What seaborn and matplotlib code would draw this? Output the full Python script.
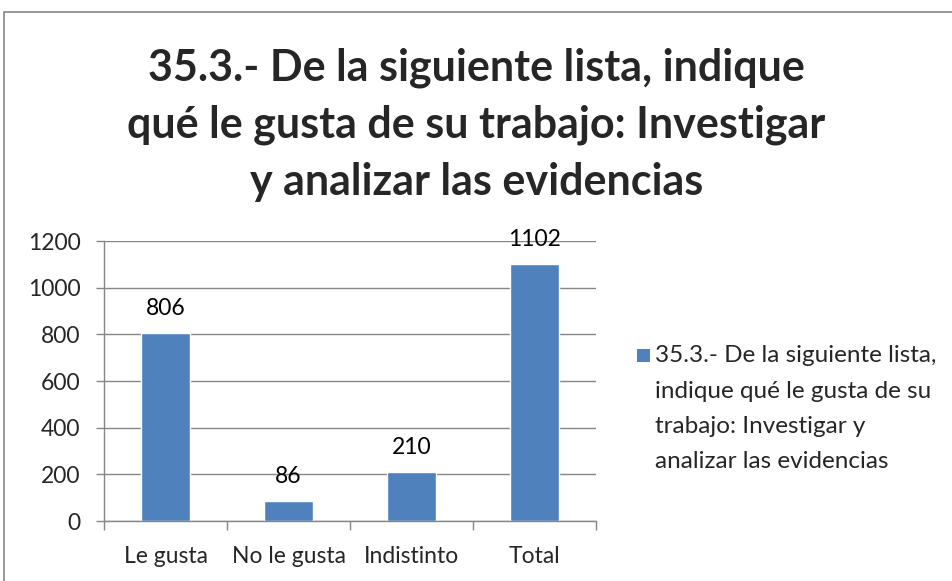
import matplotlib
matplotlib.use("Agg")
import matplotlib.pyplot as plt
from matplotlib.patches import Rectangle
import seaborn as sns

categories = ["Le gusta", "No le gusta", "Indistinto", "Total"]
values = [806, 86, 210, 1102]
title_lines = ["35.3.- De la siguiente lista, indique",
               "qué le gusta de su trabajo: Investigar",
               "y analizar las evidencias"]
legend_lines = ["35.3.- De la siguiente lista,",
                "indique qué le gusta de su",
                "trabajo: Investigar y",
                "analizar las evidencias"]
y_ticks = [0, 200, 400, 600, 800, 1000, 1200]

sns.set_theme(style="white")
plt.rcParams["font.family"] = ["Lato", "DejaVu Sans"]

BAR = "#4F81BD"
AXIS = "#868686"
FS = 16.5

W, H = 953, 581
fig = plt.figure(figsize=(W / 100, H / 100), dpi=100)
ax = fig.add_axes([104 / W, 1 - 521 / H, (596 - 104) / W, (521 - 241) / H])

sns.barplot(x=categories, y=values, color=BAR, width=0.4, saturation=1, ax=ax)

ax.set_xlim(-0.5, len(categories) - 0.5)
ax.set_ylim(0, 1200)
ax.set_yticks(y_ticks)
ax.set_yticklabels([str(t) for t in y_ticks], fontsize=FS)
ax.grid(axis="y", color=AXIS, linewidth=1)
ax.set_axisbelow(True)
ax.set_xlabel("")
ax.set_ylabel("")

for s in ["top", "right"]:
    ax.spines[s].set_visible(False)
for s in ["left", "bottom"]:
    ax.spines[s].set_color(AXIS)
    ax.spines[s].set_linewidth(1)

ax.tick_params(axis="y", which="both", left=True, length=6, color=AXIS, width=1, pad=11)
# category labels centred, tick marks at the category boundaries
ax.set_xticks(range(len(categories)))
ax.set_xticklabels(categories, fontsize=FS)
ax.tick_params(axis="x", which="major", bottom=False, pad=12)
ax.set_xticks([i - 0.5 for i in range(len(categories) + 1)], minor=True)
ax.tick_params(axis="x", which="minor", bottom=True, length=6.5, color=AXIS, width=1)

# value labels centred a little above each bar
for i, v in enumerate(values):
    ax.annotate(str(v), (i, v), xytext=(0, 24), textcoords="offset pixels",
                ha="center", va="center", fontsize=FS, color="black")

for k, line in enumerate(title_lines):
    fig.text(0.5, 1 - (68 + 57 * k) / H, line, ha="center", va="center",
             fontsize=31, fontweight="bold")

# legend: swatch beside the first line of the wrapped series name
fig.patches.append(Rectangle((637 / W, 1 - 362 / H), 13 / W, 13 / H,
                             transform=fig.transFigure, facecolor=BAR,
                             edgecolor="none"))
for k, line in enumerate(legend_lines):
    fig.text(655 / W, 1 - (356 + 35.3 * k) / H, line, ha="left", va="center",
             fontsize=17.5)

# outer chart frame
fig.patches.append(Rectangle((4 / W, -0.1), 2, 1 - 12 / H + 0.1,
                             transform=fig.transFigure, fill=False,
                             edgecolor=AXIS, linewidth=1.2))

fig.savefig("out.png", dpi=100)
